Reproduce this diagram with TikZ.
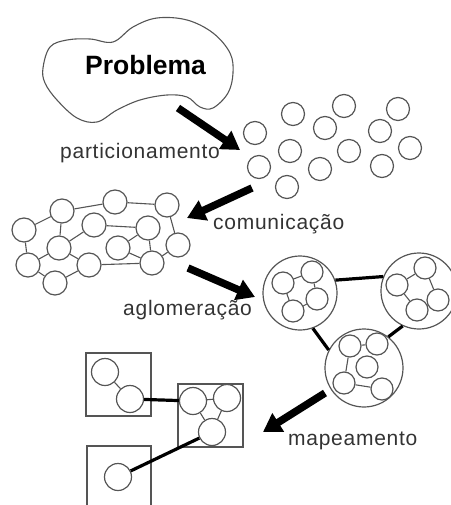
\documentclass[tikz,border=0pt]{standalone}
\usepackage{fontspec}
\setmainfont{Liberation Sans}
\newfontfamily\lblfont[LetterSpace=3.5]{Liberation Sans}
\usetikzlibrary{arrows.meta}

\definecolor{ink}{HTML}{333333}
\definecolor{rim}{HTML}{555555}

\tikzset{
  dot/.style={circle, draw=rim, line width=1.2pt, fill=white, inner sep=0pt, minimum size=23pt},
  gdot/.style={dot, minimum size=24pt},
  cdot/.style={dot, minimum size=22pt},
  bdot/.style={dot, minimum size=27pt},
  cluster/.style={circle, draw=rim, line width=1.2pt, inner sep=0pt, minimum size=#1},
  frame/.style={draw=rim, line width=1.2pt, inner sep=0pt},
  link/.style={draw=rim, line width=1.1pt},
  heavy/.style={draw=black, line width=3.2pt},
  bigarrow/.style={draw=black, line width=7.5pt, -{Triangle[length=18pt,width=21pt]}},
  lbl/.style={inner sep=0pt, anchor=base west, text=ink, font=\lblfont\fontsize{21}{24}\selectfont},
}

\begin{document}
\begin{tikzpicture}[x=1pt, y=-1pt]
\useasboundingbox (0,0) rectangle (450,505);

% the problem as a cloud-like blob
\draw[draw=rim, line width=1.1pt] plot[smooth cycle, tension=0.6] coordinates {
  (43,68) (50,47) (67,40) (90,39) (113,42) (133,27) (157,18) (187,20)
  (213,33) (230,53) (233,73) (228,93) (213,108) (200,107) (187,97)
  (167,95) (140,100) (117,110) (97,122) (77,118) (57,100) (45,83)};
\node[lbl, text=black, font=\bfseries\fontsize{26.5}{30}\selectfont] (prob) at (85,75) {Problema};

% partitioned tasks
\foreach \n/\x/\y in {p1/255/133, p2/293/114, p3/344/106, p4/398/109, p5/325/128,
  p6/380/131, p7/290/151, p8/349/151, p9/410/148, p10/259/167, p11/320/169,
  p12/382/166, p13/287/187}
  \node[dot] (\n) at (\x,\y) {};

% communicating tasks
\foreach \n/\x/\y in {ga/24/230, gb/62/211, gc/115/202, gd/167/205, ge/94/225,
  gf/148/228, gg/59/248, gh/118/248, gi/178/245, gj/28/265, gk/89/265,
  gl/152/263, gm/55/283}
  \node[gdot] (\n) at (\x,\y) {};
\foreach \u/\v in {ga/gb, gb/gc, gc/gd, gb/gg, ga/gj, gg/gj, gg/gk, gg/ge, gj/gm,
  gk/gm, gk/gl, ge/gf, gh/gf, gf/gl, gh/gl, gd/gi, gi/gl}
  \draw[link] (\u) -- (\v);

% agglomerated groups
\node[cluster=74pt] (A) at (300,293) {};
\node[cluster=76pt] (B) at (419,291) {};
\node[cluster=78pt] (C) at (364,368) {};
\foreach \n/\x/\y in {a1/283/283, a2/312/272, a3/317/299, a4/293/311,
  b1/397/285, b2/425/268, b3/438/300, b4/417/310,
  c1/350/346, c2/377/344, c3/367/367, c4/344/383, c5/382/389}
  \node[cdot] (\n) at (\x,\y) {};
\foreach \u/\v in {a1/a2, a2/a3, a3/a4, a4/a1, b1/b2, b2/b3, b3/b4, b4/b1,
  c1/c2, c1/c4, c4/c5}
  \draw[link] (\u) -- (\v);
\draw[heavy] (A.20) -- (B.158);
\draw[heavy] (A.-70) -- (C.153);
\draw[heavy] (B.-115) -- (C.52);

% mapped onto processors
\node[frame, minimum width=65pt, minimum height=63pt] (m1) at (118.5,384.5) {};
\node[frame, minimum width=65pt, minimum height=63pt] (m2) at (210.5,415.5) {};
\coordinate (m3a) at (87,506);
\coordinate (m3b) at (87,446);
\coordinate (m3c) at (151,446);
\coordinate (m3d) at (151,506);
\draw[draw=rim, line width=1.2pt] (m3a) -- (m3b) -- (m3c) -- (m3d);
\foreach \n/\x/\y in {q1/105/372, q2/130/399, q3/193/401, q4/227/398, q5/212/432, q6/118/477}
  \node[bdot] (\n) at (\x,\y) {};
\foreach \u/\v in {q1/q2, q3/q4, q3/q5, q4/q5}
  \draw[link] (\u) -- (\v);
\draw[heavy] (q2) -- (q3);
\draw[heavy] (q5) -- (q6);

% stage arrows
\coordinate (s1) at (178,108); \coordinate (t1) at (240,150);
\coordinate (s2) at (252,188); \coordinate (t2) at (187,218);
\coordinate (s3) at (188,268); \coordinate (t3) at (255,297);
\coordinate (s4) at (325,393); \coordinate (t4) at (263,432);
\draw[bigarrow] (s1) -- (t1);
\draw[bigarrow] (s2) -- (t2);
\draw[bigarrow] (s3) -- (t3);
\draw[bigarrow] (s4) -- (t4);

% stage labels
\node[lbl] (l1) at (60,158) {particionamento};
\node[lbl] (l2) at (213,229) {comunicação};
\node[lbl] (l3) at (123,315) {aglomeração};
\node[lbl] (l4) at (288,445) {mapeamento};
\end{tikzpicture}
\end{document}
